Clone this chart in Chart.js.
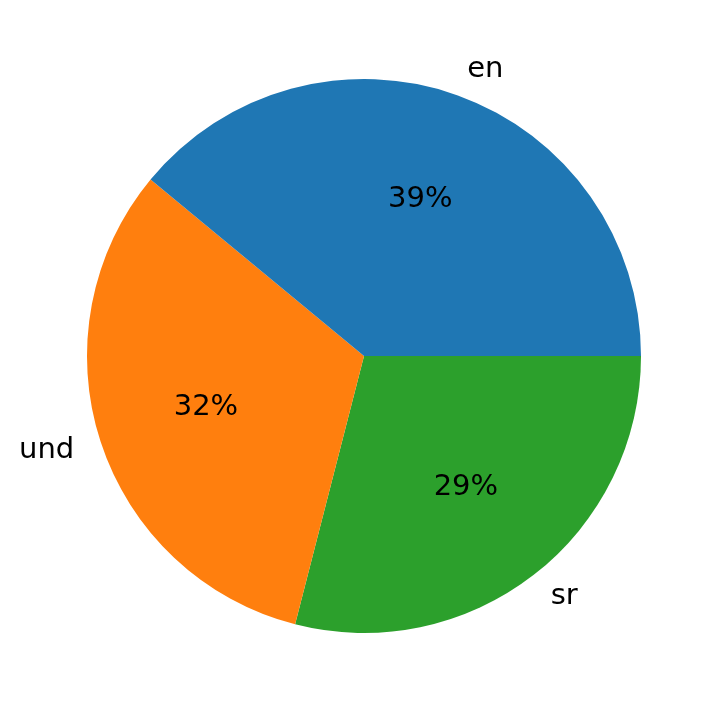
<!DOCTYPE html>
<html><head><meta charset="utf-8">
<script src="https://cdn.jsdelivr.net/npm/chart.js"></script>
<style>html,body{margin:0;padding:0;background:#fff}#wrap{width:720px;height:713px}</style>
</head><body><div id="wrap"><canvas id="c"></canvas></div>
<script>
// matplotlib order (counterclockwise from east)
const categories = ["en", "und", "sr"];
const values = [39, 32, 29];
const colors = ["#1f77b4", "#ff7f0e", "#2ca02c"];

// Chart.js draws clockwise, so reverse the order
const cjLabels = categories.slice().reverse();
const cjValues = values.slice().reverse();
const cjColors = colors.slice().reverse();

const labelPlugin = {
  id: 'pieLabels',
  afterDatasetsDraw(chart) {
    const ctx = chart.ctx;
    const meta = chart.getDatasetMeta(0);
    const total = cjValues.reduce((a, b) => a + b, 0);
    ctx.save();
    ctx.font = '29px "DejaVu Sans"';
    ctx.fillStyle = '#000';
    ctx.textBaseline = 'middle';
    meta.data.forEach((arc, i) => {
      const mid = (arc.startAngle + arc.endAngle) / 2;
      const r = arc.outerRadius;
      const cx = arc.x, cy = arc.y;
      const lx = cx + Math.cos(mid) * r * 1.1;
      const ly = cy + Math.sin(mid) * r * 1.1;
      ctx.textAlign = Math.cos(mid) >= 0 ? 'left' : 'right';
      ctx.fillText(cjLabels[i], lx, ly);
      const px = cx + Math.cos(mid) * r * 0.6;
      const py = cy + Math.sin(mid) * r * 0.6;
      ctx.textAlign = 'center';
      ctx.fillText(Math.round(cjValues[i] / total * 100) + '%', px, py);
    });
    ctx.restore();
  }
};

new Chart(document.getElementById('c'), {
  type: 'pie',
  data: { labels: cjLabels, datasets: [{ data: cjValues, backgroundColor: cjColors, borderWidth: 0 }] },
  options: {
    responsive: true, maintainAspectRatio: false, animation: false,
    rotation: 90,
    layout: { padding: { top: 79, bottom: 80, left: 87, right: 79 } },
    plugins: { legend: { display: false }, tooltip: { enabled: false } }
  },
  plugins: [labelPlugin]
});
</script></body></html>
